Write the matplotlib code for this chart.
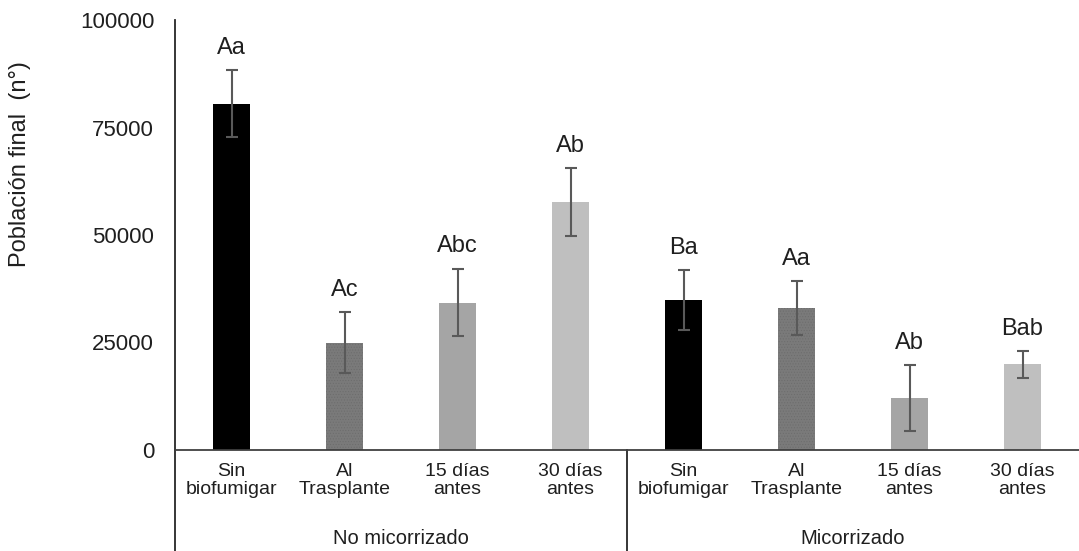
# Población final por tratamiento de biofumigación, con y sin micorriza
import matplotlib.pyplot as plt
from matplotlib.transforms import blended_transform_factory

plt.rcParams['font.family'] = ['Liberation Sans', 'DejaVu Sans']
plt.rcParams['hatch.linewidth'] = 0.4

tratamientos = ["Sin\nbiofumigar", "Al\nTrasplante", "15 días\nantes", "30 días\nantes"] * 2
grupos = ["No micorrizado", "Micorrizado"]
poblacion = [80500, 25000, 34300, 57600, 34900, 33000, 12100, 19900]
error = [7800, 7000, 7900, 7900, 7000, 6200, 7700, 3200]
letras = ["Aa", "Ac", "Abc", "Ab", "Ba", "Aa", "Ab", "Bab"]
colores = ["#000000", "#7a7a7a", "#a5a5a5", "#bfbfbf"] * 2

texto = "#1f1f1f"

fig = plt.figure(figsize=(10.79, 5.51), dpi=100)
ax = fig.add_axes([175 / 1079, 101 / 551, 904 / 1079, 430 / 551])

x = list(range(len(poblacion)))
barras = ax.bar(x, poblacion, width=0.32, color=colores, linewidth=0, zorder=2)
# la barra "Al Trasplante" lleva una trama punteada
for i in (1, 5):
    barras[i].set_hatch("......")
    barras[i].set_edgecolor("#6c6c6c")

ax.errorbar(x, poblacion, yerr=error, fmt="none", ecolor="#595959",
            elinewidth=1.5, capsize=4.5, capthick=1.5, zorder=3)

for xi, v, e, t in zip(x, poblacion, error, letras):
    ax.annotate(t, (xi, v + e), xytext=(0, 8), textcoords="offset points",
                ha="center", va="bottom", fontsize=17, color=texto)

ax.set_xlim(-0.5, len(x) - 0.5)
ax.set_ylim(0, 100000)
ax.set_yticks([0, 25000, 50000, 75000, 100000])
ax.set_xticks(x)
ax.set_xticklabels(tratamientos, fontsize=14, color=texto, linespacing=1.12)
ax.tick_params(axis="y", length=0, pad=15, labelsize=16, labelcolor=texto)
ax.tick_params(axis="x", length=0, pad=9)

for lado in ("top", "right"):
    ax.spines[lado].set_visible(False)
ax.spines["bottom"].set_color("#404040")
ax.spines["bottom"].set_linewidth(1.3)
ax.spines["left"].set_color("#262626")
ax.spines["left"].set_linewidth(1.3)

# eje de categorías en dos niveles: separadores y nombre de cada grupo
trans = blended_transform_factory(ax.transData, ax.transAxes)
abajo = -101 / 430
for xs in (-0.5, 3.5):
    ax.plot([xs, xs], [0, abajo], transform=trans, color="#262626",
            lw=1.3, clip_on=False)
for k, g in enumerate(grupos):
    ax.text(1.5 + 4 * k, -88 / 430, g, transform=trans, ha="center",
            va="center", fontsize=14.5, color=texto)

fig.text(20 / 1079, 1 - 164 / 551, "Población final  (n°)", rotation=90,
         ha="center", va="center", fontsize=17, color=texto)

fig.savefig("out.png", dpi=100)
